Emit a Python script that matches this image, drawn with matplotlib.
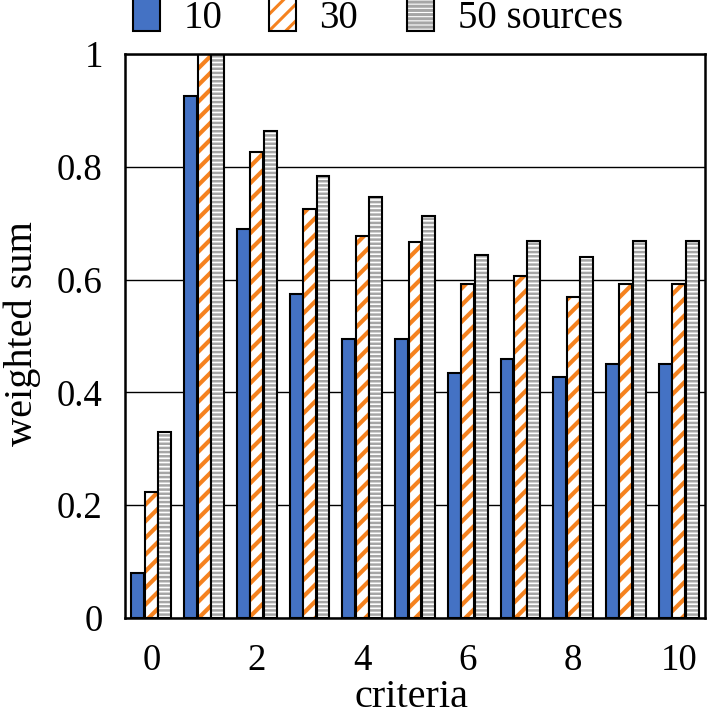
import matplotlib
matplotlib.use("Agg")
import matplotlib.pyplot as plt
import numpy as np

criteria = list(range(11))
s10 = [0.08, 0.926, 0.69, 0.575, 0.494, 0.494, 0.434, 0.46, 0.427, 0.45, 0.45]
s30 = [0.223, 1.0, 0.827, 0.726, 0.678, 0.667, 0.593, 0.607, 0.569, 0.592, 0.592]
s50 = [0.329, 1.0, 0.864, 0.784, 0.747, 0.713, 0.644, 0.668, 0.640, 0.668, 0.668]
labels = ["10", "30", "50 sources"]
xtick_vals = [0, 2, 4, 6, 8, 10]
ytick_vals = [0, 0.2, 0.4, 0.6, 0.8, 1.0]
ytick_labels = ["0", "0.2", "0.4", "0.6", "0.8", "1"]

plt.rcParams['font.family'] = ['Liberation Serif', 'DejaVu Serif']
plt.rcParams['font.size'] = 26.5
plt.rcParams['hatch.linewidth'] = 2.2

fig = plt.figure(figsize=(7.09, 7.16), dpi=100)
ax = fig.add_axes([125/709, 1 - 618/716, 580/709, (618-54)/716])

x = np.array(criteria, dtype=float)
w = 0.245
off = 0.255

styles = [
    dict(facecolor='#4472C4', hatch=None, hcolor=None, hlw=1.0),
    dict(facecolor='white', hatch='//', hcolor='#F5821F', hlw=3.0),
    dict(facecolor='white', hatch='----', hcolor='#A6A6A6', hlw=1.8),
]
series = [s10, s30, s50]
handles = []
for k, (vals, st) in enumerate(zip(series, styles)):
    plt.rcParams['hatch.linewidth'] = st['hlw'] if st['hatch'] else 2.2
    bars = ax.bar(x + (k - 1) * off, vals, width=w, facecolor=st['facecolor'],
                  edgecolor='black', linewidth=1.5, zorder=3, label=labels[k])
    for b in bars:
        if st['hatch']:
            b.set_hatch(st['hatch'])
            try:
                b.set_hatch_linewidth(st['hlw'])
            except Exception:
                pass
            try:
                b.set_hatchcolor(st['hcolor'])
            except Exception:
                b._hatch_color = matplotlib.colors.to_rgba(st['hcolor'])
    handles.append(bars)
plt.rcParams['hatch.linewidth'] = 2.2

ax.set_xlim(-0.5, 10.5)
ax.set_ylim(0, 1)
ax.set_xticks(xtick_vals)
ax.set_xticklabels([str(v) for v in xtick_vals])
ax.set_yticks(ytick_vals)
ax.set_yticklabels(ytick_labels)
ax.yaxis.grid(True, color='black', linewidth=1.0, zorder=0)
ax.set_axisbelow(True)
ax.tick_params(axis='x', length=0, pad=18)
ax.tick_params(axis='y', length=0, pad=16)
for sp in ax.spines.values():
    sp.set_linewidth(1.8)
    sp.set_zorder(5)

xl = ax.set_xlabel("criteria", fontsize=29, va='baseline')
ax.xaxis.set_label_coords((411 - 125) / 580, (618 - 707) / 564)
yl = ax.set_ylabel("weighted sum", fontsize=29, va='center', ha='center')
ax.yaxis.set_label_coords((22 - 125) / 580, (618 - 334) / 564)

# legend entries placed individually above the axes
leg_x = [133/709, 269/709, 407/709]
for k in range(3):
    fig.legend([handles[k][0]], [labels[k]], loc='center left',
               bbox_to_anchor=(leg_x[k], 1 - 17/716), frameon=False,
               handlelength=0.7, handleheight=0.95, handletextpad=0.6,
               borderpad=0, borderaxespad=0, fontsize=28)

fig.savefig("out.png", dpi=100)
